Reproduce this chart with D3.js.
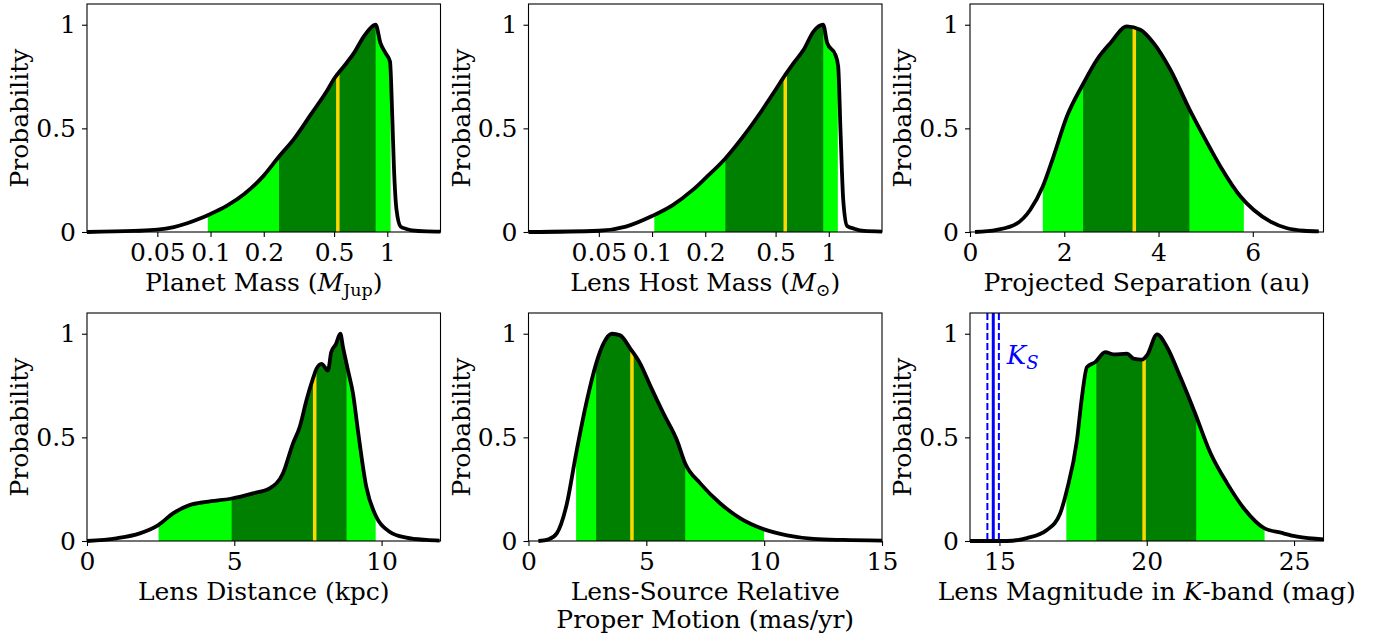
<!DOCTYPE html>
<html>
<head>
<meta charset="utf-8">
<script src="https://cdn.jsdelivr.net/npm/d3@7"></script>
<style>
body { margin: 0; background: #fff; }
svg text { font-family: 'DejaVu Serif', serif; fill: #000; }
</style>
</head>
<body>
<div id="chart"></div>
<script>
// values; CI = [2sig low, 1sig low, median, 1sig high, 2sig high]

// planet mass (M_Jup), log axis
const planetMassX = [0.02, 0.0368, 0.05, 0.062, 0.0738, 0.0878, 0.1, 0.124, 0.1545, 0.2, 0.244, 0.296, 0.368, 0.457, 0.5, 0.568, 0.647, 0.737, 0.804, 0.859, 0.915, 0.978, 1.036, 1.067, 1.09, 1.128, 1.19, 1.27, 1.38, 1.68, 2.0]
const planetMassP = [0, 0.005, 0.011, 0.024, 0.042, 0.066, 0.087, 0.127, 0.182, 0.272, 0.364, 0.448, 0.565, 0.683, 0.739, 0.799, 0.863, 0.944, 0.984, 1.0, 0.911, 0.863, 0.823, 0.557, 0.316, 0.106, 0.026, 0.016, 0.008, 0.003, 0.002]
const planetMassCI = [0.0965, 0.244, 0.525, 0.859, 1.044]

// host mass (M_sun), log axis
const hostMassX = [0.02, 0.05, 0.0711, 0.1, 0.131, 0.17, 0.2, 0.2606, 0.328, 0.408, 0.5, 0.567, 0.632, 0.72, 0.821, 0.929, 0.98, 1.09, 1.13, 1.166, 1.207, 1.27, 1.39, 1.58, 2.0]
const hostMassP = [0, 0.006, 0.026, 0.077, 0.13, 0.203, 0.259, 0.356, 0.461, 0.573, 0.686, 0.758, 0.815, 0.879, 0.968, 1.0, 0.911, 0.855, 0.8, 0.477, 0.155, 0.029, 0.016, 0.005, 0.002]
const hostMassCI = [0.103, 0.26, 0.567, 0.93, 1.125]

// projected separation (au)
const sepX = [0.106, 0.567, 0.99, 1.275, 1.544, 1.771, 2.055, 2.409, 2.692, 2.976, 3.33, 3.613, 3.897, 4.251, 4.662, 4.959, 5.313, 5.739, 6.022, 6.376, 6.73, 7.085, 7.4]
const sepP = [0, 0.01, 0.04, 0.106, 0.219, 0.364, 0.557, 0.718, 0.831, 0.911, 0.992, 0.976, 0.911, 0.783, 0.589, 0.461, 0.316, 0.171, 0.106, 0.05, 0.018, 0.006, 0.003]
const sepCI = [1.545, 2.4, 3.486, 4.655, 5.81]

// lens distance (kpc)
const distX = [0, 1.0, 1.79, 2.42, 2.92, 3.48, 4.05, 4.91, 5.63, 6.2, 6.65, 6.99, 7.22, 7.45, 7.67, 7.79, 7.96, 8.18, 8.29, 8.45, 8.6, 8.69, 8.86, 9.03, 9.2, 9.48, 9.82, 10.27, 10.84, 11.52, 11.97]
const distP = [0, 0.013, 0.037, 0.077, 0.133, 0.173, 0.189, 0.205, 0.23, 0.254, 0.326, 0.47, 0.55, 0.679, 0.783, 0.831, 0.855, 0.823, 0.911, 0.95, 1.0, 0.935, 0.823, 0.711, 0.53, 0.262, 0.117, 0.045, 0.016, 0.005, 0.002]
const distCI = [2.43, 4.91, 7.73, 8.81, 9.8]

// relative proper motion (mas/yr)
const muX = [0.42, 0.85, 1.2, 1.63, 2.02, 2.48, 2.87, 3.18, 3.54, 3.89, 4.32, 4.74, 5.16, 5.73, 6.3, 6.65, 7.29, 8.14, 8.99, 10.0, 10.97, 12.1, 13.37, 15]
const muP = [0, 0.008, 0.037, 0.181, 0.422, 0.679, 0.856, 0.952, 1.0, 0.992, 0.928, 0.856, 0.751, 0.615, 0.486, 0.374, 0.278, 0.181, 0.109, 0.056, 0.027, 0.01, 0.005, 0.002]
const muCI = [2.02, 2.87, 4.39, 6.65, 10.0]

// lens K magnitude
const kmagX = [14.0, 15.25, 15.93, 16.61, 17.06, 17.29, 17.63, 17.8, 17.97, 18.25, 18.59, 18.87, 19.33, 19.55, 19.84, 20.01, 20.35, 20.69, 21.14, 21.6, 22.17, 22.73, 23.3, 24.0, 24.55, 25.11, 26.0]
const kmagP = [0, 0, 0.014, 0.053, 0.133, 0.246, 0.486, 0.695, 0.839, 0.863, 0.911, 0.9, 0.904, 0.88, 0.875, 0.896, 0.997, 0.935, 0.791, 0.631, 0.422, 0.278, 0.157, 0.061, 0.04, 0.021, 0.008]
const kmagCI = [17.27, 18.29, 19.91, 21.68, 24.0]

// observed source K_S with error
const ksMag = 14.79
const ksErr = [14.59, 14.98]

const probTicks = [0, 0.5, 1]
const massTicks = [0.05, 0.1, 0.2, 0.5, 1]

const panels = [
  {xs: planetMassX, ps: planetMassP, ci: planetMassCI, log: true, domain: [0.02, 2], ticks: massTicks, label: ['Planet Mass (', {it: 'M'}, {sub: 'Jup'}, ')']},
  {xs: hostMassX, ps: hostMassP, ci: hostMassCI, log: true, domain: [0.02, 2], ticks: massTicks, label: ['Lens Host Mass (', {it: 'M'}, {sub: '\u2299'}, ')']},
  {xs: sepX, ps: sepP, ci: sepCI, log: false, domain: [0, 7.5], ticks: [0, 2, 4, 6], label: ['Projected Separation (au)']},
  {xs: distX, ps: distP, ci: distCI, log: false, domain: [0, 12], ticks: [0, 5, 10], label: ['Lens Distance (kpc)']},
  {xs: muX, ps: muP, ci: muCI, log: false, domain: [0, 15], ticks: [0, 5, 10, 15], label: ['Lens-Source Relative'], label2: 'Proper Motion (mas/yr)'},
  {xs: kmagX, ps: kmagP, ci: kmagCI, log: false, domain: [14, 26], ticks: [15, 20, 25], label: ['Lens Magnitude in ', {it: 'K'}, '-band (mag)'], ks: true}
]

const W = 1385, H = 637
const colLeft = [87, 528.5, 970]
const rowTop = [4, 313]
const pw = 353.5, ph = 228
const fs = 25

const svg = d3.select('#chart').append('svg')
  .attr('width', W)
  .attr('height', H)

panels.forEach(function(p, i) {
  const g = svg.append('g')
    .attr('transform', `translate(${colLeft[i % 3]},${rowTop[Math.floor(i / 3)]})`)

  const x = (p.log ? d3.scaleLog() : d3.scaleLinear()).domain(p.domain).range([0, pw])
  const y = d3.scaleLinear().domain([0, 1.1]).range([ph, 0])

  const pts = p.xs.map((v, j) => [v, p.ps[j]])
  const area = d3.area().x(d => x(d[0])).y0(y(0)).y1(d => y(d[1])).curve(d3.curveMonotoneX)
  const line = d3.line().x(d => x(d[0])).y(d => y(d[1])).curve(d3.curveMonotoneX)

  g.append('clipPath').attr('id', `under${i}`)
    .append('path').attr('d', area(pts))

  const fills = g.append('g').attr('clip-path', `url(#under${i})`)
  fills.append('rect')
    .attr('x', x(p.ci[0])).attr('width', x(p.ci[4]) - x(p.ci[0]))
    .attr('y', 0).attr('height', ph)
    .attr('fill', '#00ff00')
  fills.append('rect')
    .attr('x', x(p.ci[1])).attr('width', x(p.ci[3]) - x(p.ci[1]))
    .attr('y', 0).attr('height', ph)
    .attr('fill', '#008000')
  fills.append('line')
    .attr('x1', x(p.ci[2])).attr('x2', x(p.ci[2]))
    .attr('y1', 0).attr('y2', ph)
    .attr('stroke', '#ffd700')
    .attr('stroke-width', 3.5)

  // the K_S measurement lines
  if (p.ks) {
    g.append('line')
      .attr('x1', x(ksMag)).attr('x2', x(ksMag))
      .attr('y1', 0).attr('y2', ph)
      .attr('stroke', '#0000ff').attr('stroke-width', 3)
    ksErr.forEach(function(v) {
      g.append('line')
        .attr('x1', x(v)).attr('x2', x(v))
        .attr('y1', 0).attr('y2', ph)
        .attr('stroke', '#0000ff').attr('stroke-width', 2)
        .attr('stroke-dasharray', '7,3')
    })
    const ks = g.append('text')
      .attr('x', x(15.25)).attr('y', y(0.853))
      .style('fill', '#0000ff')
      .attr('font-size', 26)
    ks.append('tspan').attr('font-style', 'italic').text('K')
    ks.append('tspan').attr('font-style', 'italic').attr('font-size', 18).attr('dy', 5).text('S')
  }

  g.append('path')
    .attr('d', line(pts))
    .attr('fill', 'none')
    .attr('stroke', '#000')
    .attr('stroke-width', 3.8)
    .attr('stroke-linejoin', 'round')

  g.append('rect')
    .attr('width', pw).attr('height', ph)
    .attr('fill', 'none')
    .attr('stroke', '#000')
    .attr('stroke-width', 1.1)

  const xAxis = g.append('g')
    .attr('transform', `translate(0,${ph})`)
    .call(d3.axisBottom(x).tickValues(p.ticks).tickFormat(d3.format('~g')).tickSize(5).tickPadding(6))
  const yAxis = g.append('g')
    .call(d3.axisLeft(y).tickValues(probTicks).tickFormat(d3.format('~g')).tickSize(5).tickPadding(6))

  ;[xAxis, yAxis].forEach(function(a) {
    a.select('.domain').remove()
    a.selectAll('line').attr('stroke', '#000').attr('stroke-width', 1.1)
    a.selectAll('text')
      .attr('font-family', 'DejaVu Serif')
      .attr('font-size', fs)
      .style('fill', '#000')
  })

  g.append('text')
    .attr('transform', `translate(-59,${ph / 2}) rotate(-90)`)
    .attr('text-anchor', 'middle')
    .attr('font-size', fs)
    .text('Probability')

  const xl = g.append('text')
    .attr('x', pw / 2).attr('y', ph + 59)
    .attr('text-anchor', 'middle')
    .attr('font-size', fs)
  let wasSub = false
  p.label.forEach(function(part) {
    if (typeof part === 'string') {
      xl.append('tspan').attr('dy', wasSub ? -5 : 0).text(part)
      wasSub = false
    } else if (part.it) {
      xl.append('tspan').attr('font-style', 'italic').text(part.it)
    } else {
      xl.append('tspan').attr('font-size', 17.5).attr('dy', 5).text(part.sub)
      wasSub = true
    }
  })
  if (p.label2) {
    g.append('text')
      .attr('x', pw / 2).attr('y', ph + 86.5)
      .attr('text-anchor', 'middle')
      .attr('font-size', fs)
      .text(p.label2)
  }
})
</script>
</body>
</html>
